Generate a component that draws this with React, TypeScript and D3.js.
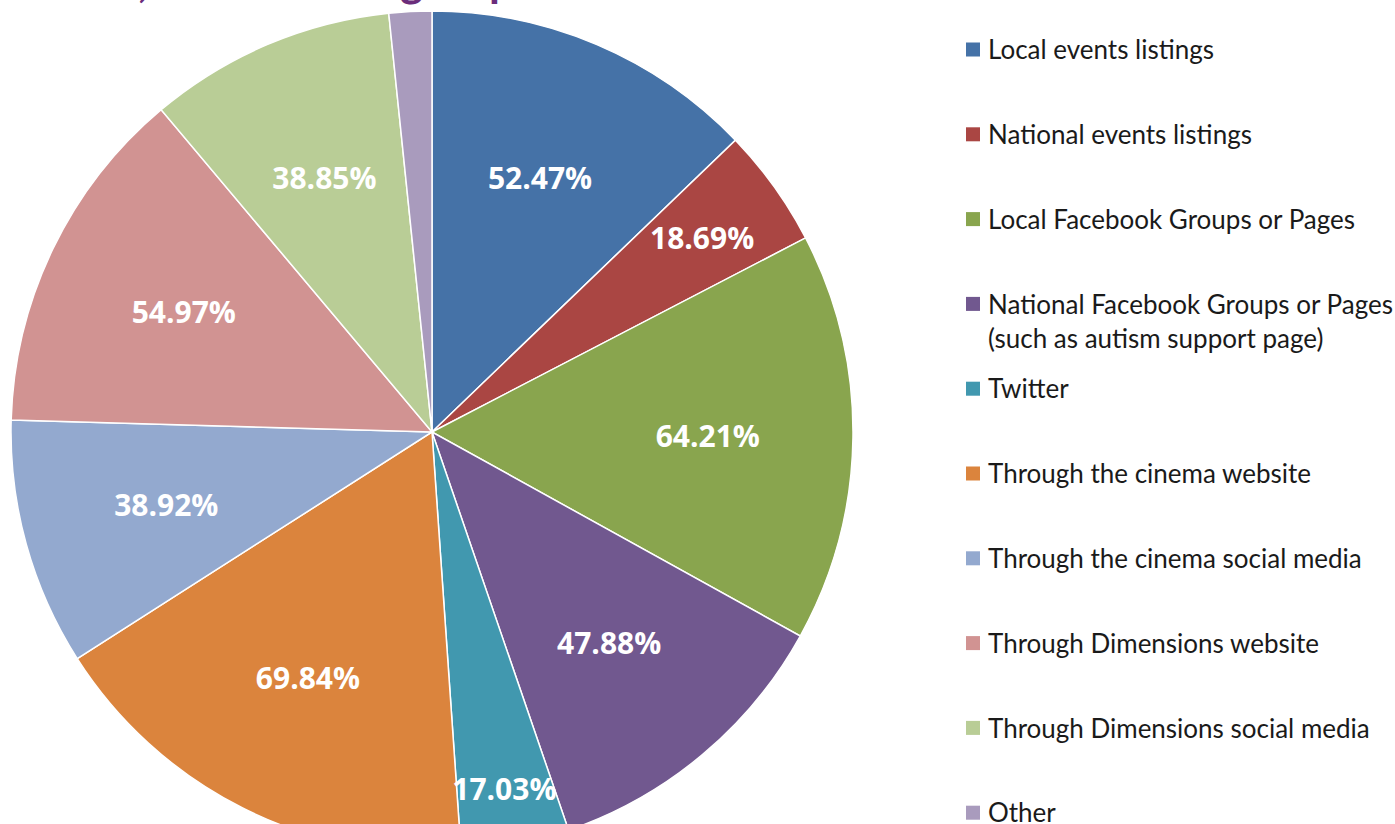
import React from 'react';
import * as d3 from 'd3';

const categories = [
  'Local events listings',
  'National events listings',
  'Local Facebook Groups or Pages',
  'National Facebook Groups or Pages\n(such as autism support page)',
  'Twitter',
  'Through the cinema website',
  'Through the cinema social media',
  'Through Dimensions website',
  'Through Dimensions social media',
  'Other'
];
const values = [52.47, 18.69, 64.21, 47.88, 17.03, 69.84, 38.92, 54.97, 38.85, 6.71];
const showLabel = [true, true, true, true, true, true, true, true, true, false];
const colors = ['#4572a7', '#aa4643', '#89a54e', '#71588f', '#4198af',
                '#db843d', '#93a9cf', '#d19392', '#b9cd96', '#a99bbd'];

const width = 1395, height = 824;
const cx = 432, cy = 432, R = 421;

export default function App() {
  const pie = d3.pie<number>().sort(null).startAngle(0).endAngle(2 * Math.PI);
  const arcs = pie(values);
  const arc = d3.arc<d3.PieArcDatum<number>>().innerRadius(0).outerRadius(R);

  const legendY = d3.scaleLinear().domain([0, 1]).range([50, 134.8]);

  return (
    <div style={{position: 'absolute', left: 0, top: 0}}>
      <svg width={width} height={height} style={{display: 'block', background: '#fff'}}>
        {/* title, mostly cut off above the view */}
        <g fill="#6b2d7b" fontFamily="Lato, 'Open Sans', sans-serif" fontWeight={700} fontSize={44}>
          <text x={148} y={-3} textAnchor="end">How did you hear about the cinema,</text>
          <text x={400} y={-3}>groups</text>
        </g>
        <g transform={`translate(${cx},${cy})`}>
          {arcs.map((a, i) =>
            <path key={i} d={arc(a) || ''} fill={colors[i]} stroke="#fff" strokeWidth={1.5} />
          )}
          {arcs.map((a, i) => {
            if (!showLabel[i]) return null;
            const span = a.endAngle - a.startAngle;
            const r = Math.max(R * 0.655, 95 / (2 * Math.sin(span / 2)));
            const mid = (a.startAngle + a.endAngle) / 2;
            const x = r * Math.sin(mid), y = -r * Math.cos(mid);
            return <text key={i} x={x} y={y} dy="0.36em" textAnchor="middle"
                         fill="#fff" fontFamily="'Open Sans', sans-serif"
                         fontWeight={700} fontSize={30}>
                     {values[i].toFixed(2)}%
                   </text>;
          })}
        </g>
        <g fontFamily="Lato, 'Open Sans', sans-serif" fontSize={26} fill="#1a1a1a">
          {categories.map((c, i) => {
            const y = legendY(i);
            const lines = c.split('\n');
            return <g key={i}>
              <rect x={966} y={y - 7.5} width={14} height={14} fill={colors[i]} />
              {lines.map((l, j) =>
                <text key={j} x={988} y={y + j * 34} dy="0.35em">{l}</text>
              )}
            </g>;
          })}
        </g>
      </svg>
    </div>
  );
}
